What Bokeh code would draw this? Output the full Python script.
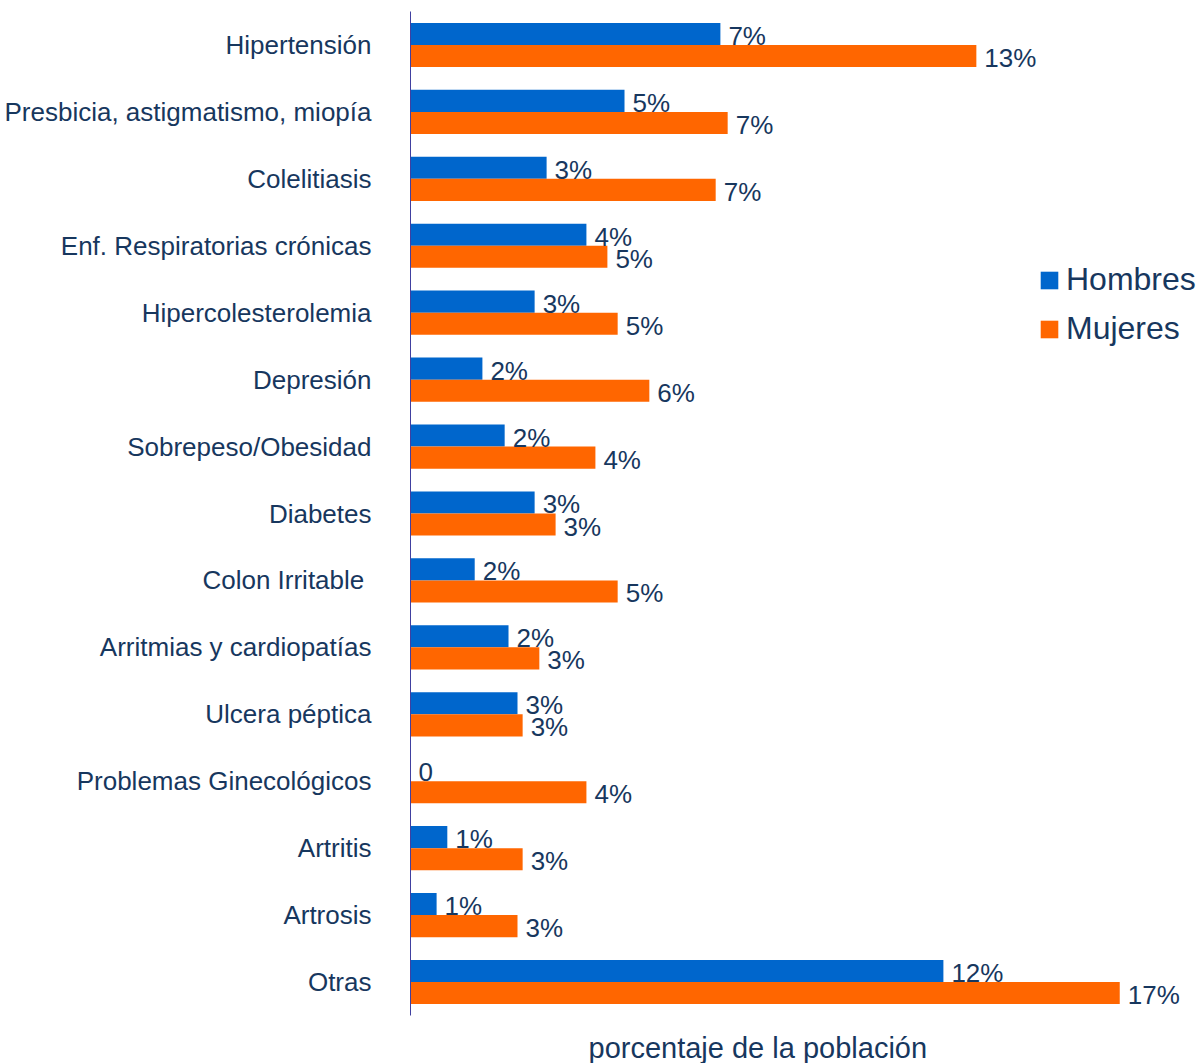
from bokeh.plotting import figure
from bokeh.models import FactorRange, Range1d, Title, Legend, LegendItem
from bokeh.transform import dodge
from bokeh.core.properties import value
from bokeh.embed import file_html
from bokeh.resources import INLINE
from bokeh.models import ColumnDataSource

categories = ["Hipertensión", "Presbicia, astigmatismo, miopía", "Colelitiasis",
              "Enf. Respiratorias crónicas", "Hipercolesterolemia", "Depresión",
              "Sobrepeso/Obesidad", "Diabetes", "Colon  Irritable",
              "Arritmias y cardiopatías", "Ulcera péptica", "Problemas Ginecológicos",
              "Artritis", "Artrosis", "Otras"]
hombres = [7.24, 5.0, 3.18, 4.11, 2.9, 1.68, 2.2, 2.9, 1.5, 2.29, 2.5, 0.0, 0.86, 0.61, 12.45]
mujeres = [13.22, 7.41, 7.13, 4.6, 4.84, 5.58, 4.32, 3.39, 4.84, 3.01, 2.62, 4.11, 2.62, 2.5, 16.57]
hombres_lbl = ["7%", "5%", "3%", "4%", "3%", "2%", "2%", "3%", "2%", "2%", "3%", "0", "1%", "1%", "12%"]
mujeres_lbl = ["13%", "7%", "7%", "5%", "5%", "6%", "4%", "3%", "5%", "3%", "3%", "4%", "3%", "3%", "17%"]

BLUE = "#0066CC"
ORANGE = "#FF6600"
TXT = "#17375E"
FONT = "Liberation Sans"

src = ColumnDataSource(dict(cat=categories, h=hombres, m=mujeres, hl=hombres_lbl, ml=mujeres_lbl))

p = figure(width=1198, height=1063, output_backend="svg", toolbar_location=None,
           y_range=FactorRange(factors=list(reversed(categories))),
           x_range=Range1d(0, 18.41),
           min_border_left=410, min_border_right=0, min_border_top=11, min_border_bottom=47)
p.outline_line_color = None
p.grid.visible = False
p.background_fill_color = "white"

rh = p.hbar(y=dodge("cat", 0.165, range=p.y_range), right="h", left=0, height=0.33,
            source=src, fill_color=BLUE, line_color=None)
rm = p.hbar(y=dodge("cat", -0.165, range=p.y_range), right="m", left=0, height=0.33,
            source=src, fill_color=ORANGE, line_color=None)

p.text(x="h", y=dodge("cat", 0.165, range=p.y_range), text="hl", source=src,
       x_offset=8, y_offset=2, text_baseline="middle", text_align="left",
       text_font=value(FONT), text_font_size="26px", text_color=TXT)
p.text(x="m", y=dodge("cat", -0.165, range=p.y_range), text="ml", source=src,
       x_offset=8, y_offset=2, text_baseline="middle", text_align="left",
       text_font=value(FONT), text_font_size="26px", text_color=TXT)

p.xaxis.visible = False
ya = p.yaxis[0]
ya.major_tick_line_color = None
ya.minor_tick_line_color = None
ya.axis_line_color = "#4040A0"
ya.axis_line_width = 1
ya.major_label_standoff = 33
ya.major_label_text_font = FONT
ya.major_label_text_font_size = "26px"
ya.major_label_text_color = TXT

# spacer between the frame and the x title
spacer = Title(text=" ", align="left", text_font=FONT, text_font_size="11px", standoff=0)
p.add_layout(spacer, "below")
xtitle = Title(text="porcentaje de la población", align="left", offset=178,
               text_font=FONT, text_font_size="29px", text_font_style="normal",
               text_color=TXT, standoff=0, vertical_align="bottom")
p.add_layout(xtitle, "below")

legend = Legend(items=[LegendItem(label="Hombres", renderers=[rh]),
                       LegendItem(label="Mujeres", renderers=[rm])],
                location=(628, 668), orientation="vertical",
                label_text_font=FONT, label_text_font_size="32px", label_text_color=TXT,
                glyph_width=22, glyph_height=22, spacing=12, padding=0, margin=0,
                label_standoff=6, border_line_color=None, background_fill_alpha=0)
p.add_layout(legend)

open("out.html", "w").write(file_html(p, INLINE))
